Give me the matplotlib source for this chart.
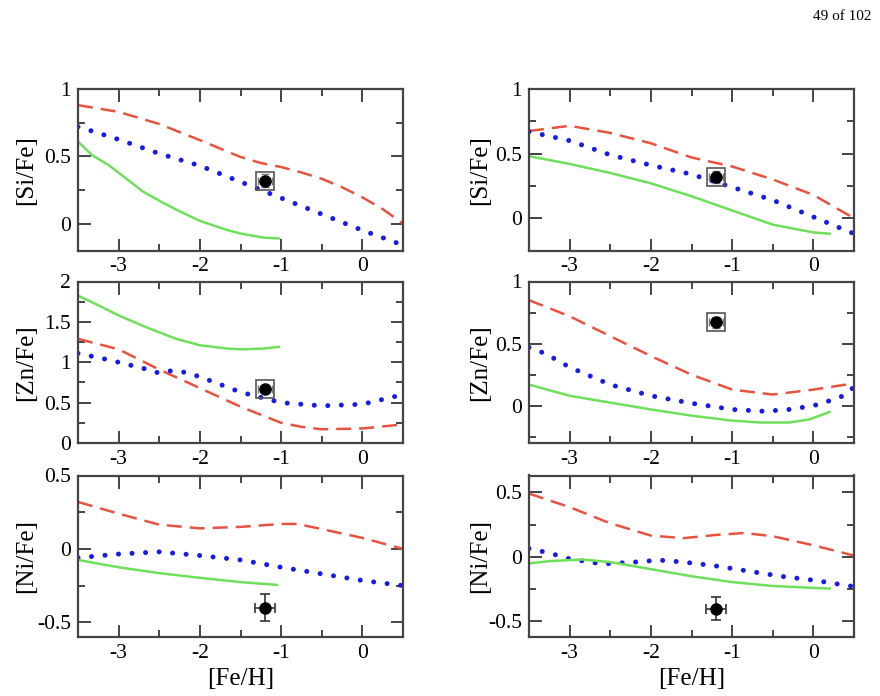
import matplotlib
matplotlib.use('Agg')
import matplotlib.pyplot as plt
from matplotlib.ticker import MultipleLocator, FuncFormatter

plt.rcParams['font.family'] = ['Liberation Serif', 'DejaVu Serif']
plt.rcParams['axes.unicode_minus'] = False

# ---- 数据 ----
x_grid = [-3.5, -3.0, -2.5, -2.0, -1.5, -1.0, -0.5, 0.0, 0.5]

# [Si/Fe] 左
si_l_red_x = [-3.5, -3.0, -2.5, -2.0, -1.5, -1.25, -1.0, -0.75, -0.5, -0.25, 0.0, 0.25, 0.5]
si_l_red = [0.88, 0.83, 0.74, 0.62, 0.495, 0.45, 0.42, 0.38, 0.333, 0.27, 0.195, 0.108, 0.0]
si_l_blue = [0.72, 0.625, 0.52, 0.43, 0.31, 0.19, 0.07, -0.05, -0.16]
si_l_green_x = [-3.5, -3.33, -3.12, -3.0, -2.7, -2.5, -2.29, -2.0, -1.67, -1.49, -1.21, -1.03]
si_l_green = [0.61, 0.51, 0.433, 0.378, 0.238, 0.17, 0.103, 0.02, -0.047, -0.075, -0.105, -0.11]

# [Si/Fe] 右
si_r_red_x = [-3.5, -3.0, -2.5, -2.0, -1.5, -1.0, -0.5, 0.0, 0.25, 0.5]
si_r_red = [0.675, 0.715, 0.66, 0.58, 0.47, 0.40, 0.30, 0.18, 0.09, 0.0]
si_r_blue = [0.67, 0.60, 0.49, 0.41, 0.34, 0.24, 0.14, 0.01, -0.12]
si_r_green_x = [-3.5, -3.0, -2.5, -2.0, -1.5, -1.0, -0.5, 0.0, 0.2]
si_r_green = [0.48, 0.42, 0.35, 0.27, 0.17, 0.06, -0.05, -0.11, -0.12]

# [Zn/Fe] 左
zn_l_red_x = [-3.5, -3.0, -2.5, -2.0, -1.5, -1.0, -0.75, -0.5, 0.0, 0.5]
zn_l_red = [1.29, 1.16, 0.91, 0.68, 0.45, 0.25, 0.20, 0.17, 0.18, 0.23]
zn_l_blue_x = [-3.5, -3.17, -3.0, -2.66, -2.5, -2.35, -2.18, -2.0, -1.5, -1.0, -0.5, 0.0, 0.5]
zn_l_blue = [1.11, 1.04, 1.0, 0.915, 0.865, 0.895, 0.875, 0.82, 0.63, 0.50, 0.46, 0.48, 0.60]
zn_l_green_x = [-3.5, -3.28, -3.0, -2.7, -2.5, -2.29, -2.0, -1.67, -1.5, -1.21, -1.03]
zn_l_green = [1.825, 1.72, 1.58, 1.45, 1.37, 1.29, 1.21, 1.17, 1.16, 1.17, 1.19]

# [Zn/Fe] 右
zn_r_red = [0.85, 0.72, 0.56, 0.40, 0.25, 0.13, 0.09, 0.13, 0.18]
zn_r_blue_x = [-3.5, -3.3, -3.0, -2.5, -2.0, -1.5, -1.0, -0.6, -0.3, 0.0, 0.2, 0.37, 0.5]
zn_r_blue = [0.47, 0.42, 0.31, 0.17, 0.08, 0.02, -0.03, -0.045, -0.03, 0.0, 0.04, 0.08, 0.15]
zn_r_green_x = [-3.5, -3.0, -2.5, -2.0, -1.5, -1.0, -0.65, -0.3, -0.05, 0.2]
zn_r_green = [0.17, 0.08, 0.025, -0.03, -0.08, -0.12, -0.135, -0.135, -0.11, -0.05]

# [Ni/Fe] 左
ni_l_red_x = [-3.5, -3.0, -2.5, -2.0, -1.5, -1.0, -0.8, -0.5, 0.0, 0.5]
ni_l_red = [0.32, 0.24, 0.165, 0.14, 0.15, 0.17, 0.17, 0.135, 0.075, 0.0]
ni_l_blue = [-0.06, -0.035, -0.02, -0.045, -0.075, -0.125, -0.17, -0.215, -0.25]
ni_l_green_x = [-3.5, -3.0, -2.5, -2.0, -1.5, -1.05]
ni_l_green = [-0.075, -0.125, -0.165, -0.197, -0.226, -0.245]

# [Ni/Fe] 右
ni_r_red_x = [-3.5, -3.0, -2.5, -2.0, -1.6, -1.2, -0.85, -0.5, 0.0, 0.5]
ni_r_red = [0.49, 0.385, 0.26, 0.165, 0.145, 0.17, 0.185, 0.16, 0.09, 0.01]
ni_r_blue_x = [-3.5, -3.25, -3.0, -2.6, -2.2, -1.9, -1.6, -1.2, -0.8, -0.4, 0.0, 0.5]
ni_r_blue = [0.065, 0.03, -0.015, -0.055, -0.04, -0.025, -0.04, -0.07, -0.11, -0.15, -0.18, -0.23]
ni_r_green_x = [-3.5, -3.25, -2.85, -2.5, -2.0, -1.5, -1.0, -0.5, 0.0, 0.2]
ni_r_green = [-0.05, -0.033, -0.02, -0.04, -0.095, -0.15, -0.195, -0.225, -0.24, -0.245]

# 观测点
obs_feh = -1.2
obs_si = 0.32
obs_zn = 0.67
obs_ni = -0.40

red = '#e8533f'
blue = '#1a1ae6'
green = '#6ee05a'
frame = '#444444'

fig = plt.figure(figsize=(8.8, 6.96), dpi=100)

lefts = [78 / 880, 529 / 880]
width = 325 / 880
bottoms = [1 - 250.5 / 696, 1 - 443 / 696, 1 - 637 / 696]
height = 161.5 / 696


def fmt(v, pos):
    if abs(v) < 1e-9:
        return '0'
    return '%g' % v


def make_axes(col, row, ylim, ylabel):
    ax = fig.add_axes([lefts[col], bottoms[row], width, height])
    ax.set_xlim(-3.5, 0.5)
    ax.set_ylim(*ylim)
    ax.xaxis.set_major_locator(MultipleLocator(1))
    ax.xaxis.set_minor_locator(MultipleLocator(0.5))
    ax.yaxis.set_major_locator(MultipleLocator(0.5))
    ax.yaxis.set_minor_locator(MultipleLocator(0.25))
    ax.xaxis.set_major_formatter(FuncFormatter(fmt))
    ax.yaxis.set_major_formatter(FuncFormatter(fmt))
    ax.tick_params(which='both', direction='in', top=True, right=True,
                   width=1.4, color=frame, labelsize=15.5)
    ax.tick_params(which='major', length=9, pad=5)
    ax.tick_params(which='minor', length=5)
    for s in ax.spines.values():
        s.set_linewidth(1.6)
        s.set_color(frame)
    ax.set_ylabel(ylabel, fontsize=18)
    ax.yaxis.set_label_coords(-0.125 if col == 0 else -0.118, 0.5)
    if row == 2:
        ax.set_xlabel('[Fe/H]', fontsize=18)
        ax.xaxis.set_label_coords(0.5, -0.19)
    return ax


def draw_lines(ax, rx, ry, bx, by, gx, gy):
    ax.plot(rx, ry, color=red, lw=1.8, dashes=(6, 3.2))
    ax.plot(bx, by, color=blue, lw=3.6, dashes=(0.01, 2.7), dash_capstyle='round')
    ax.plot(gx, gy, color=green, lw=1.8)


def draw_obs(ax, y, box):
    if box:
        ax.errorbar(obs_feh, y, xerr=0.09, yerr=0.045, fmt='none', ecolor='#777777',
                    elinewidth=1, capsize=3, capthick=1)
        ax.plot(obs_feh, y, marker='s', ms=13, mfc='none', mec='#555555', mew=1.2)
    else:
        ax.errorbar(obs_feh, y, xerr=0.12, yerr=0.09, fmt='none', ecolor='#333333',
                    elinewidth=1.2, capsize=3.5, capthick=1.2)
    ax.plot(obs_feh, y, 'o', color='black', ms=8)


# 左列
ax = make_axes(0, 0, (-0.2, 1.0), '[Si/Fe]')
draw_lines(ax, si_l_red_x, si_l_red, x_grid, si_l_blue, si_l_green_x, si_l_green)
draw_obs(ax, obs_si, True)

ax = make_axes(0, 1, (0, 2.0), '[Zn/Fe]')
draw_lines(ax, zn_l_red_x, zn_l_red, zn_l_blue_x, zn_l_blue, zn_l_green_x, zn_l_green)
draw_obs(ax, obs_zn, True)

ax = make_axes(0, 2, (-0.6, 0.5), '[Ni/Fe]')
draw_lines(ax, ni_l_red_x, ni_l_red, x_grid, ni_l_blue, ni_l_green_x, ni_l_green)
draw_obs(ax, obs_ni, False)

# 右列
ax = make_axes(1, 0, (-0.25, 1.0), '[Si/Fe]')
draw_lines(ax, si_r_red_x, si_r_red, x_grid, si_r_blue, si_r_green_x, si_r_green)
draw_obs(ax, obs_si, True)

ax = make_axes(1, 1, (-0.3, 1.0), '[Zn/Fe]')
draw_lines(ax, x_grid, zn_r_red, zn_r_blue_x, zn_r_blue, zn_r_green_x, zn_r_green)
draw_obs(ax, obs_zn, True)

ax = make_axes(1, 2, (-0.62, 0.63), '[Ni/Fe]')
draw_lines(ax, ni_r_red_x, ni_r_red, ni_r_blue_x, ni_r_blue, ni_r_green_x, ni_r_green)
draw_obs(ax, obs_ni, False)

# 页码
fig.text(842 / 880, 1 - 17 / 696, '49 of 102', fontsize=11, ha='center', va='center')

plt.savefig('out.png', dpi=100)
